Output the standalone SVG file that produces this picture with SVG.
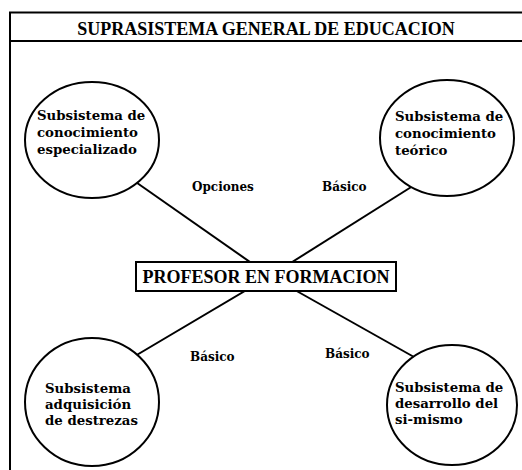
<svg xmlns="http://www.w3.org/2000/svg" width="522" height="470" viewBox="0 0 522 470">
<style>
.frame{stroke:#000;stroke-width:2;fill:none}
.node{fill:#fff;stroke:#000;stroke-width:2}
.conn{stroke:#000;stroke-width:2;fill:none}
.caps{font-family:"Liberation Serif","Times New Roman",serif;font-weight:bold;fill:#000}
.txt{font-family:"DejaVu Serif",serif;font-weight:bold;font-size:13.3px;fill:#000}
.lbl{font-family:"DejaVu Serif",serif;font-weight:bold;font-size:12px;fill:#000}
</style>
<rect width="522" height="470" fill="#fff"/>
<g id="frame">
<polyline class="frame" points="10,470 10,12.5 522,12.5"/>
<line class="frame" x1="10" y1="41" x2="522" y2="41"/>
<text class="caps" x="266" y="35" font-size="18" text-anchor="middle">SUPRASISTEMA GENERAL DE EDUCACION</text>
</g>
<g id="connectors">
<line class="conn" x1="130" y1="178" x2="270" y2="276"/>
<line class="conn" x1="416" y1="184" x2="270" y2="276"/>
<line class="conn" x1="130" y1="359" x2="270" y2="276"/>
<line class="conn" x1="414" y1="357" x2="270" y2="276"/>
<text class="lbl" x="192" y="191">Opciones</text>
<text class="lbl" x="322" y="191">Básico</text>
<text class="lbl" x="190" y="361">Básico</text>
<text class="lbl" x="325" y="358">Básico</text>
</g>
<g id="node-tl">
<ellipse class="node" cx="92" cy="140" rx="67" ry="58"/>
<text class="txt"><tspan x="37" y="120">Subsistema de</tspan><tspan x="37" y="137">conocimiento</tspan><tspan x="37" y="154">especializado</tspan></text>
</g>
<g id="node-tr">
<ellipse class="node" cx="447" cy="138" rx="67" ry="58"/>
<text class="txt"><tspan x="395" y="121">Subsistema de</tspan><tspan x="395" y="138">conocimiento</tspan><tspan x="395" y="155">teórico</tspan></text>
</g>
<g id="node-bl">
<ellipse class="node" cx="92" cy="402" rx="67" ry="64"/>
<text class="txt"><tspan x="45" y="393">Subsistema</tspan><tspan x="45" y="409">adquisición</tspan><tspan x="45" y="425">de destrezas</tspan></text>
</g>
<g id="node-br">
<ellipse class="node" cx="452" cy="405" rx="65" ry="60"/>
<text class="txt"><tspan x="395" y="392">Subsistema de</tspan><tspan x="395" y="408">desarrollo del</tspan><tspan x="395" y="424">si-mismo</tspan></text>
</g>
<g id="node-center">
<rect class="node" x="136" y="262" width="260" height="29"/>
<text class="caps" x="266" y="283" font-size="18" text-anchor="middle">PROFESOR EN FORMACION</text>
</g>
</svg>
